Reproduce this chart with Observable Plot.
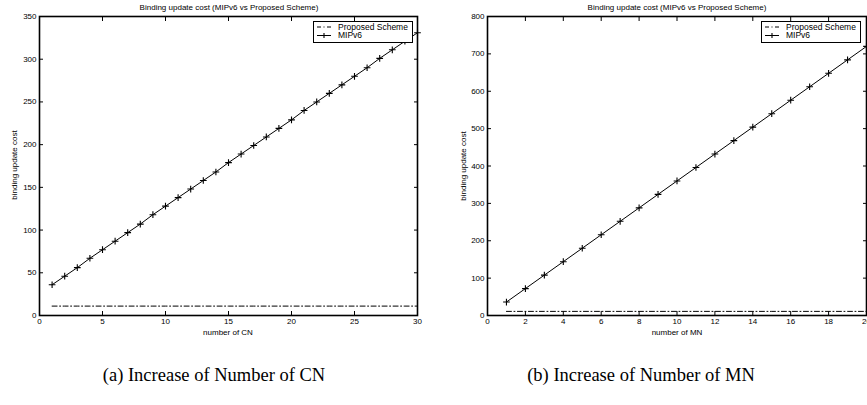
<!DOCTYPE html>
<html><head><meta charset="utf-8">
<script src="https://cdn.jsdelivr.net/npm/d3@7"></script>
<script src="https://cdn.jsdelivr.net/npm/@observablehq/plot@0.6"></script>
<style>
body{margin:0;background:#fff;}
#root{position:relative;width:867px;height:405px;overflow:hidden;font-family:"Liberation Sans",Arial,sans-serif;color:#000;}
.panel{position:absolute;top:0;}
.t{position:absolute;font-size:8px;white-space:nowrap;transform:translate(-50%,-50%);}
.yl{position:absolute;font-size:8px;white-space:nowrap;transform:translate(-50%,-50%) rotate(-90deg);}
.cap{position:absolute;font-family:"Liberation Serif","DejaVu Serif",serif;font-size:18.5px;white-space:nowrap;transform:translate(-50%,-50%);}
.leg{position:absolute;border:1px solid #000;background:#fff;font-size:9px;box-sizing:border-box;}
</style></head>
<body><div id="root"></div>
<script>
// ---- data ----
const titleText = "Binding update cost (MIPv6 vs Proposed Scheme)";
const yLabel = "binding update cost";
const seriesNames = ["Proposed Scheme", "MIPv6"];

const cnCount = [1,2,3,4,5,6,7,8,9,10,11,12,13,14,15,16,17,18,19,20,21,22,23,24,25,26,27,28,29,30];
const cnMIPv6 = [36,46,56,67,77,87,97,107,118,128,138,148,158,168,179,189,199,209,219,229,240,250,260,270,280,290,301,311,321,331];
const cnProposed = [11,11,11,11,11,11,11,11,11,11,11,11,11,11,11,11,11,11,11,11,11,11,11,11,11,11,11,11,11,11];
const cnXTicks = [0,5,10,15,20,25,30];
const cnYTicks = [0,50,100,150,200,250,300,350];

const mnCount = [1,2,3,4,5,6,7,8,9,10,11,12,13,14,15,16,17,18,19,20];
const mnMIPv6 = [36,72,108,144,180,216,252,288,324,360,396,432,468,504,540,576,612,648,684,720];
const mnProposed = [11,11,11,11,11,11,11,11,11,11,11,11,11,11,11,11,11,11,11,11];
const mnXTicks = [0,2,4,6,8,10,12,14,16,18,20];
const mnYTicks = [0,100,200,300,400,500,600,700,800];

const captions = ["(a) Increase of Number of CN", "(b) Increase of Number of MN"];
const xLabels = ["number of CN", "number of MN"];

const root = document.getElementById("root");
const DASHDOT = "5,2.5,1,2.5";

function panel(xs, mip, prop, xTicks, yTicks, opts) {
  const rowsM = xs.map((x, i) => ({x, y: mip[i]}));
  const rowsP = xs.map((x, i) => ({x, y: prop[i]}));
  const chart = Plot.plot({
    width: opts.width, height: 340,
    marginLeft: opts.ml, marginRight: opts.mr, marginTop: 16, marginBottom: 25,
    style: {fontFamily: "Liberation Sans, Arial, sans-serif", fontSize: "8px", color: "#000", background: "transparent", overflow: "visible"},
    x: {domain: [xTicks[0], xTicks[xTicks.length-1]]},
    y: {domain: [yTicks[0], yTicks[yTicks.length-1]]},
    marks: [
      Plot.axisX({ticks: xTicks, tickSize: -4, tickPadding: 7, label: null, tickFormat: d => d}),
      Plot.axisX({anchor: "top", ticks: xTicks, tickSize: -4, tickFormat: () => "", label: null}),
      Plot.axisY({ticks: yTicks, tickSize: -4, tickPadding: 7, label: null, tickFormat: d => d}),
      Plot.axisY({anchor: "right", ticks: yTicks, tickSize: -4, tickFormat: () => "", label: null}),
      Plot.line(rowsP, {x: "x", y: "y", stroke: "#000", strokeWidth: 1, strokeDasharray: DASHDOT}),
      Plot.line(rowsM, {x: "x", y: "y", stroke: "#000", strokeWidth: 1}),
      Plot.dot(rowsM, {x: "x", y: "y", symbol: "plus", r: 2.3, stroke: "#000", strokeWidth: 1.1}),
      Plot.frame({stroke: "#000", strokeWidth: 1.6})
    ]
  });
  chart.classList.add("panel");
  chart.style.left = opts.left + "px";
  root.appendChild(chart);
}

panel(cnCount, cnMIPv6, cnProposed, cnXTicks, cnYTicks, {left: 0, width: 430, ml: 39, mr: 13});
panel(mnCount, mnMIPv6, mnProposed, mnXTicks, mnYTicks, {left: 440, width: 428, ml: 47, mr: 2});

function addDiv(cls, text, x, y) {
  const d = document.createElement("div");
  d.className = cls; d.textContent = text;
  d.style.left = x + "px"; d.style.top = y + "px";
  root.appendChild(d);
  return d;
}
addDiv("t", titleText, 229, 7);
addDiv("t", titleText, 677, 7);
addDiv("yl", yLabel, 14, 165);
addDiv("yl", yLabel, 463, 166);
addDiv("t", xLabels[0], 228, 332);
addDiv("t", xLabels[1], 677, 332);
addDiv("cap", captions[0], 214, 375);
addDiv("cap", captions[1], 641, 375);

function legend(x, y) {
  const W = 100, H = 22;
  const box = document.createElement("div");
  box.className = "leg";
  box.style.left = x + "px"; box.style.top = y + "px";
  box.style.width = W + "px"; box.style.height = H + "px";
  const ns = "http://www.w3.org/2000/svg";
  const svg = document.createElementNS(ns, "svg");
  svg.setAttribute("width", W); svg.setAttribute("height", H);
  svg.style.position = "absolute"; svg.style.left = "-1px"; svg.style.top = "-1px";
  const items = [
    {name: seriesNames[0], dash: "4,2.5,1,2.5", marker: false},
    {name: seriesNames[1], dash: null, marker: true}
  ];
  items.forEach((it, i) => {
    const cy = 6 + i * 8.5;
    const l = document.createElementNS(ns, "line");
    l.setAttribute("x1", 4); l.setAttribute("x2", 18); l.setAttribute("y1", cy); l.setAttribute("y2", cy);
    l.setAttribute("stroke", "#000"); l.setAttribute("stroke-width", 1);
    if (it.dash) l.setAttribute("stroke-dasharray", it.dash);
    svg.appendChild(l);
    if (it.marker) {
      const p = document.createElementNS(ns, "path");
      p.setAttribute("d", `M8.5,${cy}h5M11,${cy-2.5}v5`);
      p.setAttribute("stroke", "#000"); p.setAttribute("stroke-width", 1.1);
      svg.appendChild(p);
    }
    const t = document.createElementNS(ns, "text");
    t.setAttribute("x", 25); t.setAttribute("y", cy); t.setAttribute("dy", "0.35em");
    t.setAttribute("font-size", 8.5); t.setAttribute("font-family", "Liberation Sans, Arial, sans-serif");
    t.textContent = it.name;
    svg.appendChild(t);
  });
  box.appendChild(svg);
  root.appendChild(box);
}
legend(313, 21);
legend(761, 21);
</script>
</body></html>
